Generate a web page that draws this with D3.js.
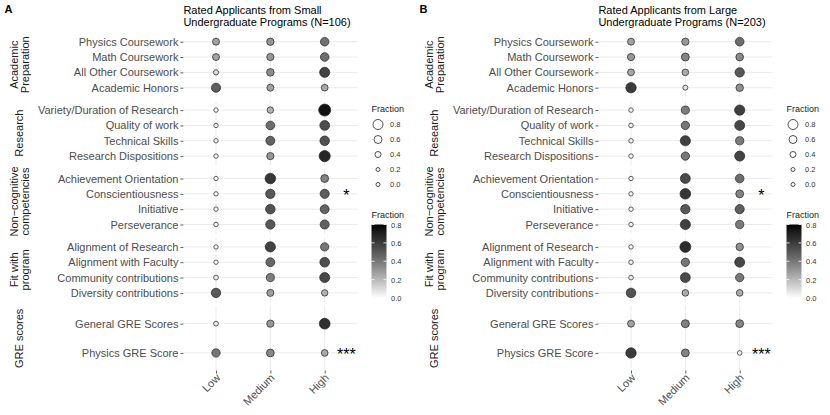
<!DOCTYPE html>
<html>
<head>
<meta charset="utf-8">
<script src="https://cdn.jsdelivr.net/npm/d3@7"></script>
<style>
  body { margin: 0; background: #fff; }
  svg { display: block; font-family: "Liberation Sans", Arial, sans-serif; }
</style>
</head>
<body>
<script>
// categories
const levels = ['Low', 'Medium', 'High']
const groupNames = ['Academic\nPreparation', 'Research', 'Non\u2212cognitive\ncompetencies', 'Fit with\nprogram', 'GRE scores']
const academicRows = ['Physics Coursework', 'Math Coursework', 'All Other Coursework', 'Academic Honors']
const researchRows = ['Variety/Duration of Research', 'Quality of work', 'Technical Skills', 'Research Dispositions']
const noncogRows = ['Achievement Orientation', 'Conscientiousness', 'Initiative', 'Perseverance']
const fitRows = ['Alignment of Research', 'Alignment with Faculty', 'Community contributions', 'Diversity contributions']
const greRows = ['General GRE Scores', 'Physics GRE Score']

// fraction of applicants rated low / medium / high, rows in order above
const smallLow    = [0.27, 0.27, 0.10, 0.48, 0.02, 0.03, 0.02, 0.02, 0.02, 0.02, 0.02, 0.03, 0.02, 0.02, 0.06, 0.50, 0.06, 0.40]
const smallMedium = [0.31, 0.30, 0.33, 0.27, 0.22, 0.43, 0.46, 0.30, 0.62, 0.50, 0.52, 0.50, 0.58, 0.45, 0.38, 0.28, 0.30, 0.35]
const smallHigh   = [0.42, 0.43, 0.57, 0.25, 0.76, 0.54, 0.52, 0.68, 0.36, 0.48, 0.46, 0.47, 0.40, 0.53, 0.56, 0.22, 0.64, 0.25]

const largeLow    = [0.27, 0.30, 0.26, 0.60, 0.03, 0.04, 0.03, 0.03, 0.02, 0.02, 0.02, 0.03, 0.02, 0.04, 0.05, 0.52, 0.27, 0.60]
const largeMedium = [0.30, 0.36, 0.24, 0.08, 0.38, 0.40, 0.58, 0.40, 0.55, 0.62, 0.50, 0.58, 0.66, 0.40, 0.55, 0.24, 0.37, 0.36]
const largeHigh   = [0.43, 0.34, 0.50, 0.32, 0.59, 0.56, 0.39, 0.57, 0.43, 0.36, 0.48, 0.39, 0.32, 0.56, 0.40, 0.24, 0.36, 0.04]

const titles = [['Rated Applicants from Small', 'Undergraduate Programs (N=106)'],
                ['Rated Applicants from Large', 'Undergraduate Programs (N=203)']]
const panelTags = ['A', 'B']
const starRows = ['Conscientiousness', 'Physics GRE Score']
const starLabels = ['*', '***']
const legendBreaks = [0.8, 0.6, 0.4, 0.2, 0.0]

const facets = [academicRows, researchRows, noncogRows, fitRows, greRows]
const allRows = facets.flat()
const panelValues = [[smallLow, smallMedium, smallHigh], [largeLow, largeMedium, largeHigh]]

const width = 830, height = 415
const panelTop = 32.5, panelH = 64.4, gap = 4
const xLeft = 183.4, xRight = 357.3

const svg = d3.select('body').append('svg')
  .attr('width', width)
  .attr('height', height)

const fill = d3.scaleLinear()
  .domain([0, 0.8])
  .range(['#ffffff', '#000000'])
  .interpolate(d3.interpolateLab)
  .clamp(true)

const radius = d3.scaleLinear()
  .domain([0, 0.8])
  .range([2.1, 6.2])

const legendRadius = d3.scaleLinear()
  .domain([0.2, 0.8])
  .range([2, 5])
  .clamp(true)

const x = d3.scalePoint()
  .domain(levels)
  .range([xLeft, xRight])
  .padding(0.6)

// colorbar gradient
const grad = svg.append('defs').append('linearGradient')
  .attr('id', 'fracgrad')
  .attr('x1', 0).attr('x2', 0).attr('y1', 1).attr('y2', 0)
grad.selectAll('stop')
  .data(d3.range(0, 1.0001, 0.1))
  .join('stop')
  .attr('offset', d => d)
  .attr('stop-color', d => fill(d * 0.8))

panelValues.forEach((vals, p) => {
  const g = svg.append('g').attr('transform', `translate(${p * 415},0)`)

  g.append('text')
    .attr('x', 4.5).attr('y', 13.4)
    .attr('font-size', 11).attr('font-weight', 'bold')
    .text(panelTags[p])

  g.append('text')
    .attr('font-size', 11).attr('fill', '#000')
    .selectAll('tspan')
    .data(titles[p])
    .join('tspan')
    .attr('x', xLeft)
    .attr('y', (d, i) => 14 + i * 12.3)
    .text(d => d)

  const records = []
  allRows.forEach((row, r) => {
    levels.forEach((lev, l) => records.push({ row: row, level: lev, v: vals[l][r] }))
  })

  let bottom = 0
  facets.forEach((rows, i) => {
    const top = panelTop + i * (panelH + gap)
    bottom = top + panelH
    const y = d3.scalePoint()
      .domain(rows)
      .range([top, top + panelH])
      .padding(0.6)

    // grid
    g.append('g').selectAll('line')
      .data(rows)
      .join('line')
      .attr('x1', xLeft).attr('x2', xRight)
      .attr('y1', d => y(d)).attr('y2', d => y(d))
      .attr('stroke', '#ebebeb').attr('stroke-width', 1)
    g.append('g').selectAll('line')
      .data(levels)
      .join('line')
      .attr('x1', d => x(d)).attr('x2', d => x(d))
      .attr('y1', top).attr('y2', top + panelH)
      .attr('stroke', '#ebebeb').attr('stroke-width', 1)

    // y axis
    g.append('g')
      .attr('transform', `translate(${xLeft},0)`)
      .call(d3.axisLeft(y).tickSize(3).tickPadding(2))
      .call(a => a.select('.domain').remove())
      .call(a => a.selectAll('line').attr('stroke', '#333').attr('stroke-width', 0.8))
      .call(a => a.selectAll('text')
        .attr('font-size', 11)
        .attr('font-family', '"Liberation Sans", Arial, sans-serif')
        .attr('fill', '#4d4d4d'))

    // strip label
    const lines = groupNames[i].split('\n')
    g.append('text')
      .attr('transform', `translate(19.5,${top + panelH / 2}) rotate(-90)`)
      .attr('text-anchor', 'middle')
      .attr('font-size', 11)
      .attr('fill', '#1a1a1a')
      .selectAll('tspan')
      .data(lines)
      .join('tspan')
      .attr('x', 0)
      .attr('y', (d, k) => (k - (lines.length - 1) / 2) * 11)
      .attr('dy', '0.35em')
      .text(d => d)

    // dots
    g.append('g').selectAll('circle')
      .data(records.filter(d => rows.includes(d.row)))
      .join('circle')
      .attr('cx', d => x(d.level))
      .attr('cy', d => y(d.row))
      .attr('r', d => radius(d.v))
      .attr('fill', d => fill(d.v))
      .attr('stroke', '#222')
      .attr('stroke-width', 0.7)

    // significance stars
    starRows.forEach((sr, k) => {
      if (!rows.includes(sr)) return
      g.append('text')
        .attr('x', x('High') + x.step() * 0.4)
        .attr('y', y(sr) + 7.5)
        .attr('text-anchor', 'middle')
        .attr('font-size', 16)
        .attr('fill', '#000')
        .text(starLabels[k])
    })
  })

  // x axis
  g.append('g')
    .attr('transform', `translate(0,${bottom})`)
    .call(d3.axisBottom(x).tickSize(3))
    .call(a => a.select('.domain').remove())
    .call(a => a.selectAll('line').attr('stroke', '#333').attr('stroke-width', 0.8))
    .call(a => a.selectAll('text')
      .attr('x', 0).attr('y', 0).attr('dy', 0)
      .attr('text-anchor', 'end')
      .attr('transform', 'translate(4.5,8) rotate(-45)')
      .attr('font-size', 11)
      .attr('font-family', '"Liberation Sans", Arial, sans-serif')
      .attr('fill', '#4d4d4d'))

  // size legend
  const lg = g.append('g')
  lg.append('text')
    .attr('x', 371.5).attr('y', 111.5)
    .attr('font-size', 9).attr('fill', '#1a1a1a')
    .text('Fraction')
  lg.selectAll('circle')
    .data(legendBreaks)
    .join('circle')
    .attr('cx', 378)
    .attr('cy', (d, i) => 124.5 + i * 15)
    .attr('r', d => legendRadius(d))
    .attr('fill', '#fff')
    .attr('stroke', '#222')
    .attr('stroke-width', 0.8)
  lg.selectAll('text.lab')
    .data(legendBreaks)
    .join('text')
    .attr('class', 'lab')
    .attr('x', 390)
    .attr('y', (d, i) => 124.5 + i * 15)
    .attr('dy', '0.35em')
    .attr('font-size', 7.5).attr('fill', '#333')
    .text(d => d.toFixed(1))

  // colorbar
  const cb = d3.scaleLinear().domain([0, 0.8]).range([298, 224.5])
  const cg = g.append('g')
  cg.append('text')
    .attr('x', 371.5).attr('y', 217.5)
    .attr('font-size', 9).attr('fill', '#1a1a1a')
    .text('Fraction')
  cg.append('rect')
    .attr('x', 371.5).attr('y', cb(0.8))
    .attr('width', 15).attr('height', cb(0) - cb(0.8))
    .attr('fill', 'url(#fracgrad)')
  const cbTicks = cb.ticks(4)
  cg.selectAll('line.t1')
    .data(cbTicks)
    .join('line')
    .attr('x1', 371.5).attr('x2', 374.5)
    .attr('y1', d => cb(d)).attr('y2', d => cb(d))
    .attr('stroke', '#fff').attr('stroke-width', 0.8)
  cg.selectAll('line.t2')
    .data(cbTicks)
    .join('line')
    .attr('x1', 383.5).attr('x2', 386.5)
    .attr('y1', d => cb(d)).attr('y2', d => cb(d))
    .attr('stroke', '#fff').attr('stroke-width', 0.8)
  cg.selectAll('text.lab')
    .data(cbTicks)
    .join('text')
    .attr('class', 'lab')
    .attr('x', 391)
    .attr('y', d => cb(d) + 0.6)
    .attr('dy', '0.35em')
    .attr('font-size', 7.5).attr('fill', '#333')
    .text(d => d.toFixed(1))
})
</script>
</body>
</html>
